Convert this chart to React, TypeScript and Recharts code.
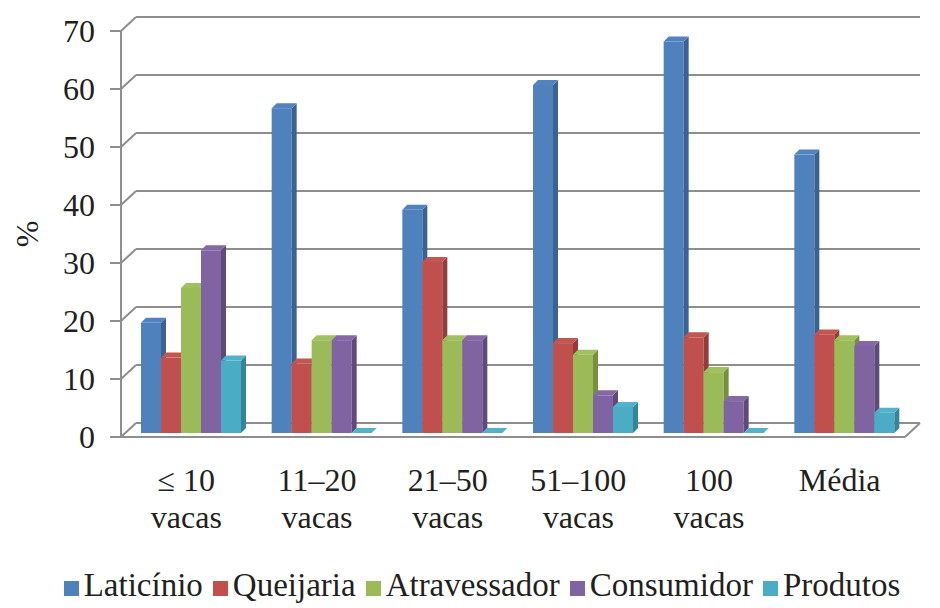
import React from 'react';
import { BarChart, Bar, XAxis, YAxis, CartesianGrid, Legend } from 'recharts';

const categories = ['≤ 10\nvacas', '11–20\nvacas', '21–50\nvacas', '51–100\nvacas', '100\nvacas', 'Média'];
const seriesNames = ['Laticínio', 'Queijaria', 'Atravessador', 'Consumidor', 'Produtos'];
const laticinio = [19, 56, 38.5, 60, 67.5, 48];
const queijaria = [13, 12, 29.5, 15.5, 16.5, 17];
const atravessador = [25, 16, 16, 13.5, 10.5, 16];
const consumidor = [31.5, 16, 16, 6.5, 5.5, 15];
const produtos = [12.5, 0, 0, 4.5, 0, 3.5];
const yTicks = [0, 10, 20, 30, 40, 50, 60, 70];
const edgeTicks = [0, 1, 2, 3, 4, 5, 6];

const data = categories.map((c, i) => ({
  name: c,
  Laticínio: laticinio[i],
  Queijaria: queijaria[i],
  Atravessador: atravessador[i],
  Consumidor: consumidor[i],
  Produtos: produtos[i],
}));

// no serif face is installed, Liberation Sans is the closest in width
const FONT = '"Liberation Serif", "Liberation Sans", Arial, sans-serif';
const TEXT = '#231f20';
const GRID = '#8e8e8e';

// depth of the floor / back wall, and of each bar
const DEPTH_X = 15;
const DEPTH_Y = 14;
const BAR_DX = 5;
const BAR_DY = 5;
const LIFT_X = 5;
const LIFT_Y = 4;

const bar3d = (side: string, top: string) => (props: any) => {
  const { x, y, width, height, fill } = props;
  if (x == null || y == null || width == null) return <g />;
  const h = Math.max(height || 0, 0);
  const fx = x + LIFT_X;
  const fy = y - LIFT_Y;
  return (
    <g>
      <rect x={fx} y={fy} width={width} height={h} fill={fill} />
      <polygon
        points={`${fx + width},${fy} ${fx + width + BAR_DX},${fy - BAR_DY} ${fx + width + BAR_DX},${fy + h - BAR_DY} ${fx + width},${fy + h}`}
        fill={side}
      />
      <polygon
        points={`${fx},${fy} ${fx + BAR_DX},${fy - BAR_DY} ${fx + width + BAR_DX},${fy - BAR_DY} ${fx + width},${fy}`}
        fill={top}
      />
    </g>
  );
};

const gridLine = (p: any) => {
  const { x1, y1, x2, y, height } = p;
  const isFloor = y != null && height != null && Math.abs(y1 - (y + height)) < 1;
  return (
    <g key={p.key}>
      <line x1={x1} y1={y1} x2={x1 + DEPTH_X} y2={y1 - DEPTH_Y} stroke={GRID} strokeWidth={2} />
      <line x1={x1 + DEPTH_X} y1={y1 - DEPTH_Y} x2={x2 + DEPTH_X} y2={y1 - DEPTH_Y} stroke={GRID} strokeWidth={2} />
      {isFloor && <line x1={x2} y1={y1} x2={x2 + DEPTH_X} y2={y1 - DEPTH_Y} stroke={GRID} strokeWidth={2} />}
    </g>
  );
};

const CategoryTick = (props: any) => {
  const { x, y, payload } = props;
  const lines = String(payload.value).split('\n');
  return (
    <text x={x} y={y} textAnchor="middle" fill={TEXT} fontSize={32} fontFamily={FONT}>
      {lines.map((l, i) => (
        <tspan key={i} x={x} dy={i === 0 ? 46 : 37}>
          {l}
        </tspan>
      ))}
    </text>
  );
};

const App: React.FC = () => {
  return (
    <div style={{ position: 'absolute', left: 0, top: 0, background: '#fff', fontFamily: FONT }}>
      <BarChart
        width={940}
        height={608}
        data={data}
        margin={{ top: 31, right: 35, left: 21, bottom: 169 }}
        barGap={0}
        barSize={20}
      >
        <CartesianGrid vertical={false} horizontal={gridLine} />
        <YAxis
          domain={[0, 70]}
          ticks={yTicks}
          width={100}
          interval={0}
          axisLine={{ stroke: GRID, strokeWidth: 2 }}
          tickLine={{ stroke: GRID, strokeWidth: 2 }}
          tickSize={11}
          tickMargin={15}
          tick={{ fill: TEXT, fontSize: 32, fontFamily: FONT }}
          label={{ value: '%', angle: -90, position: 'insideLeft', offset: 6, fill: TEXT, fontSize: 32, fontFamily: FONT, style: { textAnchor: 'middle' } }}
        />
        <XAxis
          dataKey="name"
          height={1}
          interval={0}
          axisLine={{ stroke: GRID, strokeWidth: 2 }}
          tickLine={false}
          tick={<CategoryTick />}
        />
        <XAxis
          xAxisId="edges"
          type="number"
          domain={[0, 6]}
          allowDataOverflow
          ticks={edgeTicks}
          height={1}
          interval={0}
          axisLine={false}
          tick={false}
          tickSize={13}
          tickLine={{ stroke: GRID, strokeWidth: 2 }}
        />
        <Legend
          layout="horizontal"
          verticalAlign="middle"
          align="center"
          iconType="square"
          iconSize={15}
          itemSorter={(item: any) => seriesNames.indexOf(item.value)}
          wrapperStyle={{ top: 566, left: 32, width: 910, fontSize: 33, fontFamily: FONT, lineHeight: '38px' }}
          formatter={(v: any) => <span style={{ color: TEXT, marginLeft: 1 }}>{v}</span>}
        />
        <Bar dataKey="Laticínio" fill="#4f81bd" legendType="square" isAnimationActive={false} shape={bar3d('#3a6394', '#5283c0')} />
        <Bar dataKey="Queijaria" fill="#c0504d" legendType="square" isAnimationActive={false} shape={bar3d('#943c3a', '#c45652')} />
        <Bar dataKey="Atravessador" fill="#9bbb59" legendType="square" isAnimationActive={false} shape={bar3d('#76903f', '#a1c05f')} />
        <Bar dataKey="Consumidor" fill="#8064a2" legendType="square" isAnimationActive={false} shape={bar3d('#5f4a7b', '#8569a7')} />
        <Bar dataKey="Produtos" fill="#4bacc6" legendType="square" isAnimationActive={false} shape={bar3d('#34849a', '#52b2cb')} />
      </BarChart>
    </div>
  );
};

export default App;
